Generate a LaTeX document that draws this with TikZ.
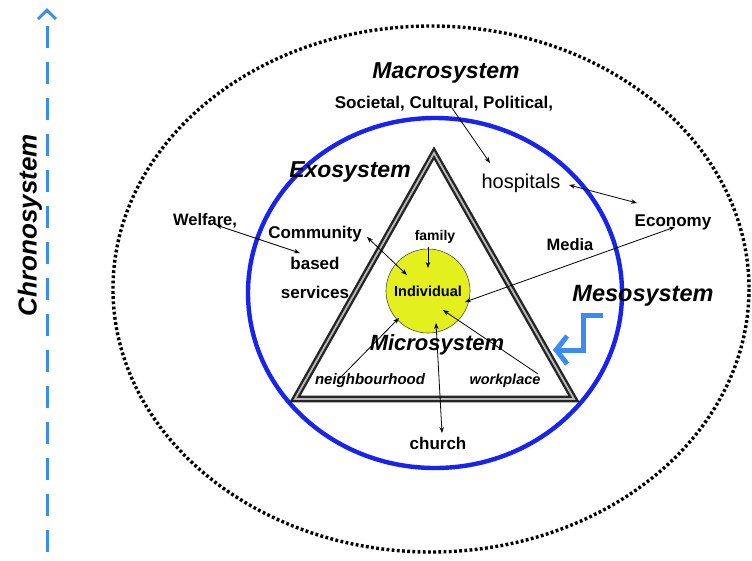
\documentclass[tikz,border=0pt]{standalone}
\usepackage{fontspec}
\setmainfont{Liberation Sans}
\usetikzlibrary{arrows.meta}
\definecolor{ringblue}{RGB}{25,35,240}
\definecolor{lightblue}{RGB}{60,140,240}
\definecolor{yel}{RGB}{228,240,30}
\newcommand\myfs[1]{\fontsize{#1}{#1}\selectfont}
\begin{document}
\begin{tikzpicture}[x=1pt,y=-1pt,
  lbl/.style={font=\bfseries, inner sep=1pt},
  ttl/.style={font=\bfseries\itshape, inner sep=1pt},
  arr/.style={-{Stealth[length=6pt,width=4.5pt]}, line width=0.8pt},
  darr/.style={{Stealth[length=6pt,width=4.5pt]}-{Stealth[length=6pt,width=4.5pt]}, line width=0.8pt}]
\useasboundingbox (0,0) rectangle (752,560);
% outer dotted ellipse (macrosystem)
\draw[line width=3.4pt, dash pattern=on 2.8pt off 2.4pt] (431,289) ellipse [x radius=318, y radius=263];
% blue ring (exosystem)
\draw[ringblue, line width=4.4pt] (435,293) ellipse [x radius=187, y radius=175];
% triangle
\draw[line width=2.4pt, black!85, double=gray!55, double distance=1.8pt, line join=miter]
  (434,153) -- (574,399) -- (295,399) -- cycle;
% individual circle
\node[circle, fill=yel, draw=black!70, line width=0.6pt, minimum size=84pt, inner sep=0pt,
  font=\bfseries\myfs{14.5}] (ind) at (428,291) {Individual};
% texts
\node[ttl, font=\bfseries\itshape\myfs{23}] (macro) at (446,73) {Macrosystem};
\node[lbl, font=\bfseries\myfs{17}] (soc) at (444,104) {Societal, Cultural, Political,};
\node[ttl, font=\bfseries\itshape\myfs{23}] (exo) at (350,172) {Exosystem};
\node[inner sep=1pt, font=\myfs{20}] (hosp) at (521,183) {hospitals};
\node[lbl, font=\bfseries\myfs{17}] (econ) at (673,222) {Economy};
\node[lbl, font=\bfseries\myfs{16.5}] (welf) at (205,221) {Welfare,};
\node[lbl, font=\bfseries\myfs{17}] (comm) at (315,234) {Community};
\node[lbl, font=\bfseries\myfs{17}] (based) at (315,263) {based};
\node[lbl, font=\bfseries\myfs{17}] (serv) at (315,292) {services};
\node[lbl, font=\bfseries\myfs{14}] (fam) at (435,237) {family};
\node[lbl, font=\bfseries\myfs{16.5}] (media) at (570,245) {Media};
\node[ttl, font=\bfseries\itshape\myfs{23.5}] (meso) at (643,296) {Mesosystem};
\node[ttl, font=\bfseries\itshape\myfs{22}] (micro) at (437,345) {Microsystem};
\node[ttl, font=\bfseries\itshape\myfs{15}] (neigh) at (370,381) {neighbourhood};
\node[ttl, font=\bfseries\itshape\myfs{14.5}] (work) at (505,381) {workplace};
\node[lbl, font=\bfseries\myfs{17}] (church) at (438,443) {church};
\node[ttl, font=\bfseries\itshape\myfs{26}, rotate=90] (chrono) at (30,225) {Chronosystem};
% arrow end points
\coordinate (socP) at (452,108);
\coordinate (hospIn) at (490,163);
\coordinate (hospR) at (569,185);
\coordinate (econL) at (637,203);
\coordinate (welfP) at (216,225);
\coordinate (basedP) at (300,253);
\coordinate (commP) at (367,237);
\coordinate (indNW) at (407,275);
\coordinate (famP) at (428,247);
\coordinate (indN) at (428,268);
\coordinate (econP) at (675,227);
\coordinate (indE) at (465,302);
\coordinate (neighP) at (340,378);
\coordinate (indSW) at (399,318);
\coordinate (workP) at (538,374);
\coordinate (indSE) at (443,310);
\coordinate (churchP) at (442,433);
\coordinate (indS) at (436,323);
% connectors
\draw[arr] (socP) -- (hospIn);
\draw[darr] (hospR) -- (econL);
\draw[darr] (welfP) -- (basedP);
\draw[darr] (commP) -- (indNW);
\draw[arr] (famP) -- (indN);
\draw[darr] (econP) -- (indE);
\draw[arr] (neighP) -- (indSW);
\draw[arr] (workP) -- (indSE);
\draw[darr] (churchP) -- (indS);
% chronosystem arrow
\coordinate (cbot) at (47,552);
\coordinate (ctop) at (47,8);
\draw[lightblue, line width=3pt, dash pattern=on 22pt off 14pt,
  -{Straight Barb[length=9pt,width=18pt]}] (cbot) -- (ctop);
% mesosystem zigzag arrow
\coordinate (z1) at (603,315);
\coordinate (z2) at (583,315);
\coordinate (z3) at (583,350);
\coordinate (z4) at (553,350);
\draw[lightblue, line width=5pt, line join=miter,
  -{Straight Barb[length=11pt,width=28pt]}] (z1) -- (z2) -- (z3) -- (z4);
\end{tikzpicture}
\end{document}
